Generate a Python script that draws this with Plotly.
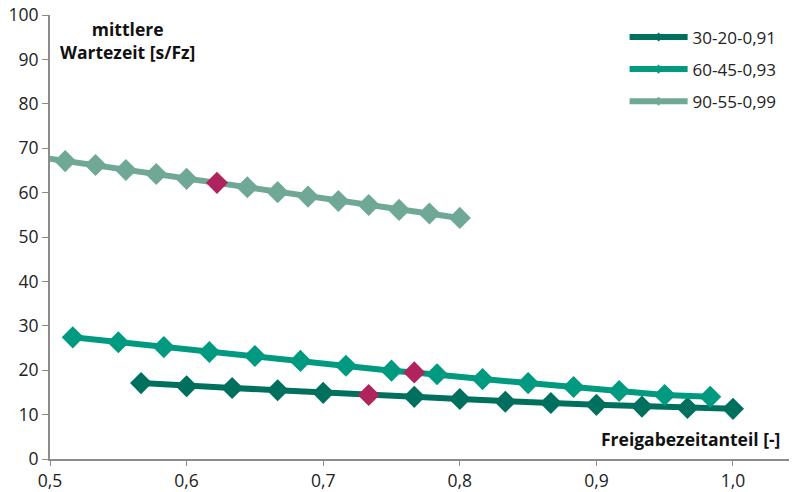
import plotly.graph_objects as go

# Freigabezeitanteil (green-time share) per signal programme
x_30 = [17/30, 18/30, 19/30, 20/30, 21/30, 22/30, 23/30, 24/30, 25/30, 26/30, 27/30, 28/30, 29/30, 30/30]
y_30 = [17.1, 16.4, 16.0, 15.5, 14.9, 14.4, 14.0, 13.5, 12.9, 12.6, 12.2, 11.8, 11.5, 11.3]
hl_30 = 5  # highlighted point index

x_60 = [31/60, 33/60, 35/60, 37/60, 39/60, 41/60, 43/60, 45/60, 46/60, 47/60, 49/60, 51/60, 53/60, 55/60, 57/60, 59/60]
y_60 = [27.4, 26.3, 25.2, 24.1, 23.2, 22.1, 21.0, 19.9, 19.5, 19.1, 18.0, 17.1, 16.2, 15.3, 14.4, 14.0]
hl_60 = 8

x_90 = [44/90, 46/90, 48/90, 50/90, 52/90, 54/90, 56/90, 58/90, 60/90, 62/90, 64/90, 66/90, 68/90, 70/90, 72/90]
y_90 = [68.1, 67.1, 66.2, 65.1, 64.2, 63.1, 62.2, 61.2, 60.1, 59.1, 58.1, 57.2, 56.1, 55.3, 54.3]
hl_90 = 6

names = ["30-20-0,91", "60-45-0,93", "90-55-0,99"]
colors = ["#00705E", "#009A80", "#6FA896"]
highlight = "#B0245E"

x_ticks = [0.5, 0.6, 0.7, 0.8, 0.9, 1.0]
x_ticklabels = ["0,5", "0,6", "0,7", "0,8", "0,9", "1,0"]
y_ticks = [0, 10, 20, 30, 40, 50, 60, 70, 80, 90, 100]

fig = go.Figure()

series = [(x_30, y_30, hl_30), (x_60, y_60, hl_60), (x_90, y_90, hl_90)]
for (xs, ys, hl), name, col in zip(series, names, colors):
    mcols = [highlight if i == hl else col for i in range(len(xs))]
    fig.add_trace(go.Scatter(
        x=xs, y=ys, mode="lines+markers", showlegend=False,
        line=dict(color=col, width=6),
        marker=dict(symbol="diamond", size=17, color=mcols, line=dict(width=0)),
    ))

# legend entries with small markers
for i, (name, col) in enumerate(zip(names, colors)):
    fig.add_trace(go.Scatter(
        x=[None], y=[None], mode="lines+markers", name=name,
        legendgroup=f"g{i}",
        line=dict(color=col, width=6),
        marker=dict(symbol="diamond", size=7, color=col),
    ))

fig.update_layout(
    width=794, height=492,
    margin=dict(l=50, r=5, t=15, b=33),
    paper_bgcolor="white", plot_bgcolor="white",
    font=dict(family="Open Sans", size=17.5, color="#222"),
    legend=dict(x=0.99, y=0.99, xanchor="right", yanchor="top",
                bgcolor="rgba(0,0,0,0)", font=dict(size=17),
                tracegroupgap=7, itemwidth=58),
    xaxis=dict(range=[0.5, 1.041], tickvals=x_ticks, ticktext=x_ticklabels,
               showgrid=False, zeroline=False, showline=True, automargin=False,
               linecolor="#8C8C8C", linewidth=2, ticks="outside",
               tickcolor="#8C8C8C", ticklen=5, tickwidth=1),
    yaxis=dict(range=[0, 100], tickvals=y_ticks,
               showgrid=False, zeroline=False, showline=True, automargin=False,
               linecolor="#8C8C8C", linewidth=2, ticks="outside",
               tickcolor="#8C8C8C", ticklen=6, tickwidth=1),
    annotations=[
        dict(text="<b>mittlere<br>Wartezeit [s/Fz]</b>", xref="paper", yref="paper",
             x=0.105, y=1.0, xanchor="center", yanchor="top", showarrow=False,
             font=dict(size=17.5, color="#111"), align="center"),
        dict(text="<b>Freigabezeitanteil [-]</b>", xref="paper", yref="paper",
             x=0.99, y=0.013, xanchor="right", yanchor="bottom", showarrow=False,
             font=dict(size=17.5, color="#111")),
    ],
)

fig.write_html("out.html")
